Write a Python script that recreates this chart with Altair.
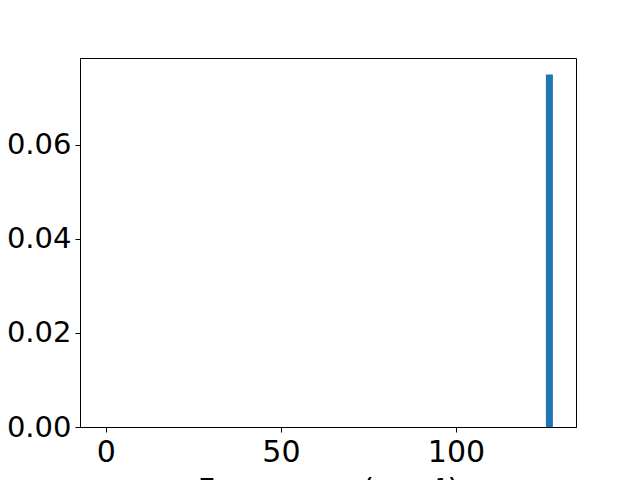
import altair as alt
import pandas as pd

# Data (single non-empty histogram bin)
bin_start = [125.7]
bin_end = [127.7]
density = [0.075]

x_ticks = [0, 50, 100]
y_ticks = [0.0, 0.02, 0.04, 0.06]

df = pd.DataFrame({"start": bin_start, "end": bin_end, "density": density, "base": [0.0] * len(density)})

FONT = "DejaVu Sans"

chart = alt.Chart(df).mark_rect(color="#1f77b4").encode(
    x=alt.X("start:Q",
            scale=alt.Scale(domain=[-7.4, 134.3], nice=False, zero=False),
            axis=alt.Axis(values=x_ticks, format="d", title="Frequency (cm⁻¹)",
                          titleY=72, titleBaseline="alphabetic",
                          labelFontSize=30, labelPadding=5)),
    x2="end:Q",
    y=alt.Y("density:Q",
            scale=alt.Scale(domain=[0, 0.0785], nice=False),
            axis=alt.Axis(values=y_ticks, format=".2f", title=None,
                          labelFontSize=29, labelPadding=4)),
    y2="base:Q",
).properties(
    width=496,
    height=369,
    autosize=alt.AutoSizeParams(type="none"),
    padding={"left": 72, "top": 50, "right": 56, "bottom": 62},
).configure_view(
    stroke="black", strokeWidth=1
).configure_axis(
    grid=False,
    domainColor="black",
    domainWidth=1,
    tickColor="black",
    tickSize=5,
    tickWidth=1,
    labelFont=FONT,
    labelColor="black",
    titleFont=FONT,
    titleFontSize=30,
    titleFontWeight="normal",
    titleColor="black",
)

chart.save("out.html", embed_options={"renderer": "svg", "actions": False})
